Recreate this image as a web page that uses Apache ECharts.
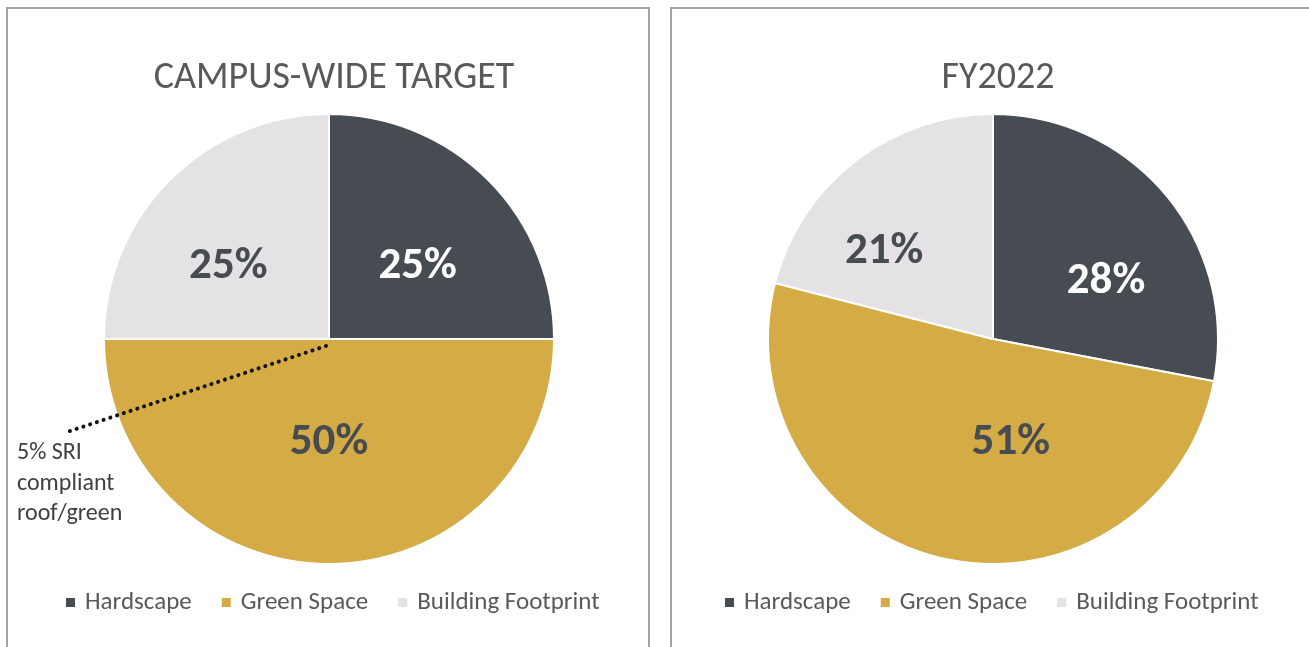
<!DOCTYPE html>
<html>
<head>
<meta charset="utf-8">
<script src="https://cdn.jsdelivr.net/npm/echarts@6/dist/echarts.min.js"></script>
<style>
  html, body { margin: 0; padding: 0; background: #fff; }
  #chart { width: 1309px; height: 647px; }
</style>
</head>
<body>
<div id="chart"></div>
<script>
// data
const categories = ['Hardscape', 'Green Space', 'Building Footprint'];
const targetShares = [25, 50, 25];
const fy2022Shares = [28, 51, 21];
const chartTitles = ['CAMPUS-WIDE TARGET', 'FY2022'];

const COLORS = ['#464c52', '#d4ab45', '#e4e2e4'];
const LABEL_COLORS = ['#ffffff', '#464c52', '#464c52'];
const FONT = 'Carlito, "Open Sans", sans-serif';
// nudge labels to where the original tool put them
const TARGET_LABEL_OFFSETS = [[7, 9], [0, -12], [-19, 9]];
const FY_LABEL_OFFSETS = [[24, 16], [43, -9], [-38, 4]];

function toData(values, offsets) {
    return values.map((v, i) => ({
        name: categories[i],
        value: v,
        itemStyle: { color: COLORS[i] },
        label: { color: LABEL_COLORS[i], offset: offsets[i] },
    }));
}

function pieSeries(values, centerX, offsets) {
    return {
        type: 'pie',
        center: [centerX, 339],
        radius: 225,
        startAngle: 90,
        clockwise: true,
        avoidLabelOverlap: false,
        silent: true,
        itemStyle: { borderColor: '#fff', borderWidth: 2 },
        label: {
            show: true,
            position: 'inside',
            formatter: '{c}%',
            fontFamily: FONT,
            fontWeight: 'bold',
            fontSize: 45,
        },
        labelLine: { show: false },
        data: toData(values, offsets),
    };
}

function legendAt(left) {
    return {
        data: categories,
        left: left,
        top: 585,
        orient: 'horizontal',
        itemWidth: 11,
        itemHeight: 11,
        itemGap: 28,
        icon: 'rect',
        textStyle: { fontFamily: FONT, fontSize: 25, color: '#595959', padding: [0, 0, 0, 4] },
        selectedMode: false,
    };
}

function titleAt(text, centerX) {
    return {
        text: text, left: centerX, top: 54, textAlign: 'center',
        textStyle: { fontFamily: FONT, fontWeight: 'normal', fontSize: 38, color: '#595959' },
    };
}

const chart = echarts.init(document.getElementById('chart'));
chart.setOption({
    animation: false,
    title: [titleAt(chartTitles[0], 329), titleAt(chartTitles[1], 993)],
    legend: [legendAt(59), legendAt(718)],
    series: [
        pieSeries(targetShares, 329, TARGET_LABEL_OFFSETS),
        pieSeries(fy2022Shares, 993, FY_LABEL_OFFSETS),
    ],
    graphic: [
        // panel frames
        {
            type: 'rect', shape: { x: 7, y: 8, width: 642, height: 660 },
            style: { fill: 'none', stroke: '#a3a6a9', lineWidth: 2 }, silent: true,
        },
        {
            type: 'rect', shape: { x: 671, y: 8, width: 660, height: 660 },
            style: { fill: 'none', stroke: '#a3a6a9', lineWidth: 2 }, silent: true,
        },
        // dotted callout for the roof note
        {
            type: 'line', z: 100,
            shape: { x1: 326, y1: 346, x2: 64, y2: 433 },
            style: { stroke: '#111', lineWidth: 4, lineDash: [0.1, 7], lineCap: 'round' },
            silent: true,
        },
        {
            type: 'text', left: 17, top: 438, z: 100,
            style: {
                text: '5% SRI\ncompliant\nroof/green',
                fontFamily: FONT, fontSize: 24, lineHeight: 30.5, fill: '#404040',
            },
            silent: true,
        },
    ],
});
</script>
</body>
</html>
